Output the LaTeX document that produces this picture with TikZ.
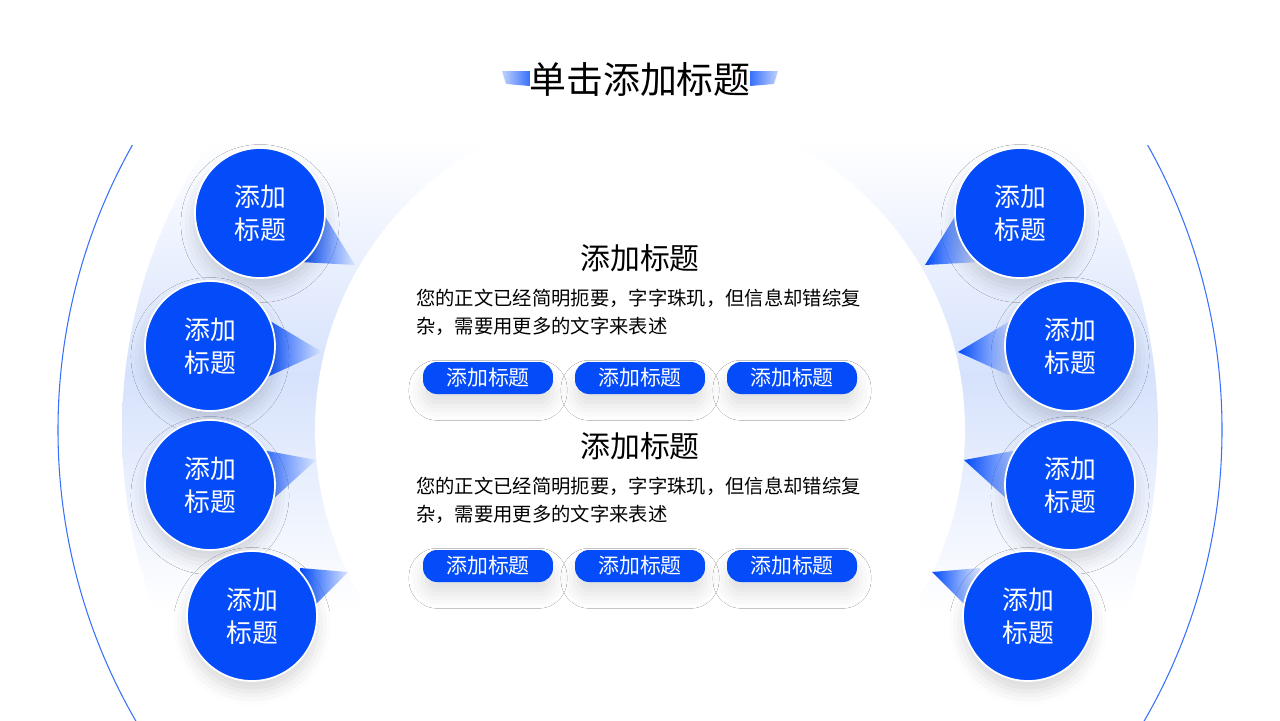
\documentclass[tikz,border=0pt]{standalone}
\usepackage{fontspec}
\setmainfont{Noto Sans CJK SC}
\usetikzlibrary{shadows.blur}
\definecolor{mainblue}{RGB}{4,76,250}
\definecolor{bandblue}{RGB}{214,226,252}
\tikzset{
  ball/.style   = {circle, fill=mainblue, draw=white, line width=1pt, minimum size=2.6cm, text=white, align=center, font=\fontsize{14.7}{18.7}\selectfont, blur shadow={shadow xshift=0pt, shadow yshift=-6pt, shadow opacity=15, shadow blur radius=8pt}},
  pill/.style   = {rounded corners=8pt, fill=mainblue, minimum width=2.6cm, minimum height=0.64cm, text=white, font=\fontsize{11.9}{13}\selectfont, blur shadow={shadow xshift=0pt, shadow yshift=-7pt, shadow opacity=12, shadow blur radius=8pt}},
  head/.style   = {font=\fontsize{17}{19}\selectfont},
  para/.style   = {anchor=north west, align=left, font=\fontsize{11}{15.9}\selectfont},
  wedge/.style  = {left color=mainblue, right color=mainblue!15}
}

\begin{document}
\begin{tikzpicture}[x=0.02cm, y=-0.02cm]
\useasboundingbox (0,0) rectangle (1280,720);

% Band and arcs
\begin{scope}
\clip (0,140) rectangle (1280,610);
\clip (640,430) circle (518);
\shade[top color=white, bottom color=white, middle color=bandblue] (0,140) rectangle (1280,610);
\end{scope}
\fill[white] (640,430) circle (325);
\begin{scope}
\clip (0,145) rectangle (1280,720);
\draw[mainblue!80, line width=0.6pt] (640,430) circle (582);
\end{scope}

% Title
\shade[left color=mainblue!25, right color=mainblue!80] (502,71) -- (530,71) -- (530,86) -- (506,84) -- cycle;
\shade[right color=mainblue!25, left color=mainblue!80] (778,71) -- (750,71) -- (750,86) -- (774,84) -- cycle;
\node[font=\fontsize{21}{23}\selectfont] (title) at (640,79) {单击添加标题};

% Wedges
\foreach \s in {1,-1}{
  \begin{scope}[xshift=640*0.02cm, xscale=\s, xshift=-640*0.02cm]
  \shade[wedge] (318,205) -- (300,262) -- (355,265) -- cycle;
  \shade[wedge] (265,318) -- (265,378) -- (322,352) -- cycle;
  \shade[wedge] (262,450) -- (250,520) -- (316,460) -- cycle;
  \shade[wedge] (300,568) -- (300,620) -- (348,572) -- cycle;
  \end{scope}
}

% Circles
\node[ball] (l1) at (260,213) {添加\\标题};
\node[ball] (l2) at (210,346) {添加\\标题};
\node[ball] (l3) at (210,485) {添加\\标题};
\node[ball] (l4) at (252,616) {添加\\标题};
\node[ball] (r1) at (1020,213) {添加\\标题};
\node[ball] (r2) at (1070,346) {添加\\标题};
\node[ball] (r3) at (1070,485) {添加\\标题};
\node[ball] (r4) at (1028,616) {添加\\标题};

% Text blocks
\foreach \dy/\n in {0/a,188/b}{
  \node[head] (head\n) at (640,258+\dy) {添加标题};
  \node[para] (para\n) at (410,283+\dy) {您的正文已经简明扼要，字字珠玑，但信息却错综复\\杂，需要用更多的文字来表述};
  \node[pill] (pill\n1) at (488,378+\dy) {添加标题};
  \node[pill] (pill\n2) at (640,378+\dy) {添加标题};
  \node[pill] (pill\n3) at (792,378+\dy) {添加标题};
}

\end{tikzpicture}
\end{document}
